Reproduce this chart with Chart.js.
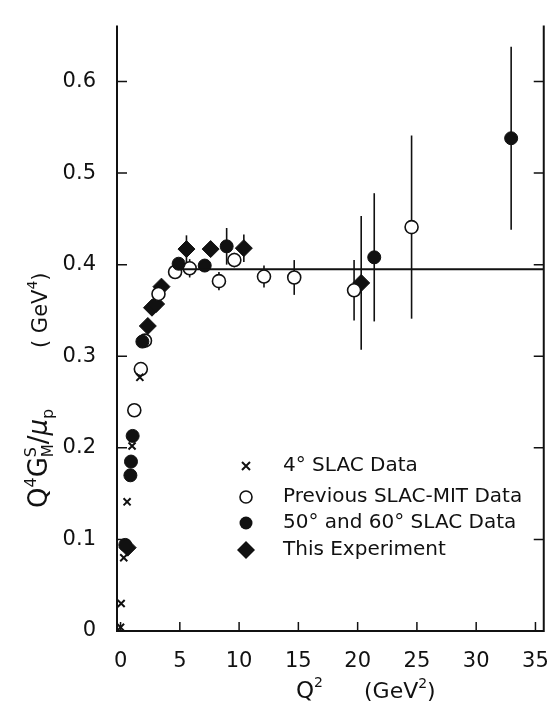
<!DOCTYPE html>
<html>
<head>
<meta charset="utf-8">
<script src="https://cdn.jsdelivr.net/npm/chart.js@4.4.0/dist/chart.umd.min.js"></script>
<style>
  html, body { margin: 0; background: #fff; }
  canvas { display: block; }
</style>
</head>
<body>
<canvas id="chart" width="559" height="701"></canvas>
<script>
// Q^2 (GeV^2) and Q^4 G_M^S / mu_p (GeV^4)
const q2Slac4 = [0, 0.05, 0.27, 0.55, 0.97, 1.63];
const gSlac4 = [0.004, 0.03, 0.08, 0.141, 0.202, 0.277];

const q2Mit = [1.16, 1.71, 2.06, 3.2, 4.6, 5.83, 8.3, 9.6, 12.1, 14.65, 19.7, 24.55];
const gMit = [0.241, 0.286, 0.317, 0.368, 0.392, 0.396, 0.382, 0.405, 0.387, 0.386, 0.372, 0.441];
const errMit = [0, 0, 0, 0, 0, 0.01, 0.01, 0.008, 0.012, 0.019, 0.033, 0.1];

const q2Fifty = [0.4, 0.83, 0.88, 1.02, 1.84, 4.9, 7.1, 8.95, 21.4, 32.95];
const gFifty = [0.094, 0.170, 0.185, 0.213, 0.316, 0.401, 0.399, 0.42, 0.408, 0.538];
const errFifty = [0.005, 0, 0, 0, 0, 0.006, 0, 0.02, 0.07, 0.1];

const q2Exp = [0.6, 2.3, 2.65, 3.0, 3.45, 5.56, 7.6, 10.4, 20.3];
const gExp = [0.091, 0.333, 0.353, 0.357, 0.376, 0.417, 0.417, 0.418, 0.38];
const errExp = [0, 0, 0, 0, 0, 0.015, 0, 0.015, 0.073];

// horizontal reference line
const fitQ2 = [5, 35.7];
const fitG = [0.395, 0.395];

const xTicks = [0, 5, 10, 15, 20, 25, 30, 35];
const yTicks = [0, 0.1, 0.2, 0.3, 0.4, 0.5, 0.6];

const legendLabels = ['4\u00b0 SLAC Data', 'Previous SLAC-MIT Data', '50\u00b0 and 60\u00b0 SLAC Data', 'This Experiment'];

const INK = '#111';
const FONT = '"DejaVu Sans", sans-serif';

function pts(xs, ys) {
    return xs.map((x, i) => ({x: x, y: ys[i]}));
}

let slac4 = {
    label: legendLabels[0],
    data: pts(q2Slac4, gSlac4),
    pointStyle: 'crossRot',
    pointRadius: 5,
    borderColor: INK,
    borderWidth: 2,
};
let mit = {
    label: legendLabels[1],
    data: pts(q2Mit, gMit),
    err: errMit,
    pointStyle: 'circle',
    pointRadius: 6.5,
    backgroundColor: '#fff',
    borderColor: INK,
    borderWidth: 1.6,
};
let fifty = {
    label: legendLabels[2],
    data: pts(q2Fifty, gFifty),
    err: errFifty,
    pointStyle: 'circle',
    pointRadius: 6.5,
    backgroundColor: INK,
    borderColor: INK,
    borderWidth: 1,
};
let exp = {
    label: legendLabels[3],
    data: pts(q2Exp, gExp),
    err: errExp,
    pointStyle: 'rectRot',
    pointRadius: 8.5,
    backgroundColor: INK,
    borderColor: INK,
    borderWidth: 1,
};
let fit = {
    type: 'line',
    label: 'fit',
    data: pts(fitQ2, fitG),
    borderColor: INK,
    borderWidth: 1.8,
    pointRadius: 0,
};

// error bars, drawn under the markers
const errorBars = {
    id: 'errorBars',
    beforeDatasetsDraw(chart) {
        const ctx = chart.ctx, xs = chart.scales.x, ys = chart.scales.y;
        ctx.save();
        ctx.strokeStyle = INK;
        ctx.lineWidth = 1.6;
        chart.data.datasets.forEach(ds => {
            if (!ds.err) return;
            ds.data.forEach((p, i) => {
                const e = ds.err[i];
                if (!e) return;
                const px = xs.getPixelForValue(p.x);
                ctx.beginPath();
                ctx.moveTo(px, ys.getPixelForValue(p.y - e));
                ctx.lineTo(px, ys.getPixelForValue(p.y + e));
                ctx.stroke();
            });
        });
        ctx.restore();
    }
};

// frame with inward ticks, axis titles and the in-plot key
const frame = {
    id: 'frame',
    afterDraw(chart) {
        const ctx = chart.ctx, a = chart.chartArea;
        const xs = chart.scales.x, ys = chart.scales.y;
        ctx.save();
        ctx.strokeStyle = INK;
        ctx.lineWidth = 2;
        ctx.beginPath();
        ctx.moveTo(a.left, a.top);
        ctx.lineTo(a.left, a.bottom);
        ctx.lineTo(a.right, a.bottom);
        ctx.lineTo(a.right, a.top);
        ctx.stroke();
        ctx.lineWidth = 1.5;
        xTicks.forEach(v => {
            const px = xs.getPixelForValue(v);
            ctx.beginPath();
            ctx.moveTo(px, a.bottom);
            ctx.lineTo(px, a.bottom - 9);
            ctx.stroke();
        });
        yTicks.forEach(v => {
            const py = ys.getPixelForValue(v);
            ctx.beginPath();
            ctx.moveTo(a.left, py);
            ctx.lineTo(a.left + 10, py);
            ctx.moveTo(a.right, py);
            ctx.lineTo(a.right - 10, py);
            ctx.stroke();
        });

        ctx.fillStyle = INK;
        ctx.textBaseline = 'alphabetic';
        ctx.textAlign = 'left';

        // x title: Q^2   (GeV^2)
        let x = 296, base = 698;
        function put(txt, size, dy, style) {
            ctx.font = (style || '') + ' ' + size + 'px ' + FONT;
            ctx.fillText(txt, x, base + dy);
            x += ctx.measureText(txt).width;
        }
        put('Q', 23, 0);
        put('2', 14, -11);
        x = 364;
        put('(GeV', 22, 0);
        put('2', 14, -10);
        put(')', 22, 0);

        // y title, rotated: Q^4 G^S_M / mu_p   ( GeV^4)
        ctx.translate(47, 508);
        ctx.rotate(-Math.PI / 2);
        x = 0; base = 0;
        put('Q', 26, 0);
        put('4', 16, -11);
        put('G', 26, 0);
        let sx = x;
        put('S', 16, -11);
        let w1 = x - sx;
        x = sx;
        put('M', 15, 6);
        x = sx + Math.max(w1, x - sx);
        put('/', 26, 0);
        put('\u03bc', 26, 0, 'italic');
        put('p', 16, 6);
        x = 160;
        put('( GeV', 21, 0);
        put('4', 14, -10);
        put(')', 21, 0);
        ctx.setTransform(1, 0, 0, 1, 0, 0);

        // key
        const kx = 246, ky = [466, 497, 523, 550], tx = 283;
        ctx.font = '20px ' + FONT;
        ctx.textBaseline = 'middle';
        legendLabels.forEach((t, i) => ctx.fillText(t, tx, ky[i]));
        ctx.lineWidth = 2;
        ctx.beginPath();
        ctx.moveTo(kx - 4, ky[0] - 4); ctx.lineTo(kx + 4, ky[0] + 4);
        ctx.moveTo(kx + 4, ky[0] - 4); ctx.lineTo(kx - 4, ky[0] + 4);
        ctx.stroke();
        ctx.lineWidth = 1.6;
        ctx.beginPath();
        ctx.arc(kx, ky[1], 6, 0, Math.PI * 2);
        ctx.stroke();
        ctx.beginPath();
        ctx.arc(kx, ky[2], 6.5, 0, Math.PI * 2);
        ctx.fill();
        ctx.beginPath();
        ctx.moveTo(kx, ky[3] - 9); ctx.lineTo(kx + 9, ky[3]);
        ctx.lineTo(kx, ky[3] + 9); ctx.lineTo(kx - 9, ky[3]);
        ctx.closePath();
        ctx.fill();
        ctx.restore();
    }
};

new Chart(document.getElementById('chart'), {
    type: 'scatter',
    data: {datasets: [fit, slac4, fifty, mit, exp]},
    options: {
        responsive: false,
        animation: false,
        layout: {padding: {top: 3, right: 6, left: 0, bottom: 0}},
        plugins: {legend: {display: false}, tooltip: {enabled: false}},
        scales: {
            x: {
                type: 'linear',
                min: -0.3,
                max: 35.7,
                afterFit: s => { s.height = 70; },
                afterBuildTicks: s => { s.ticks = xTicks.map(v => ({value: v})); },
                grid: {display: false},
                border: {display: false},
                ticks: {color: INK, padding: 10, maxRotation: 0, font: {family: FONT, size: 21}},
            },
            y: {
                type: 'linear',
                min: 0,
                max: 0.661,
                afterFit: s => { s.width = 117; },
                afterBuildTicks: s => { s.ticks = yTicks.map(v => ({value: v})); },
                grid: {display: false},
                border: {display: false},
                ticks: {
                    color: INK, padding: 13,
                    font: {family: FONT, size: 21},
                    callback: v => v === 0 ? '0' : v.toFixed(1),
                },
            },
        },
    },
    plugins: [errorBars, frame],
});
</script>
</body>
</html>
